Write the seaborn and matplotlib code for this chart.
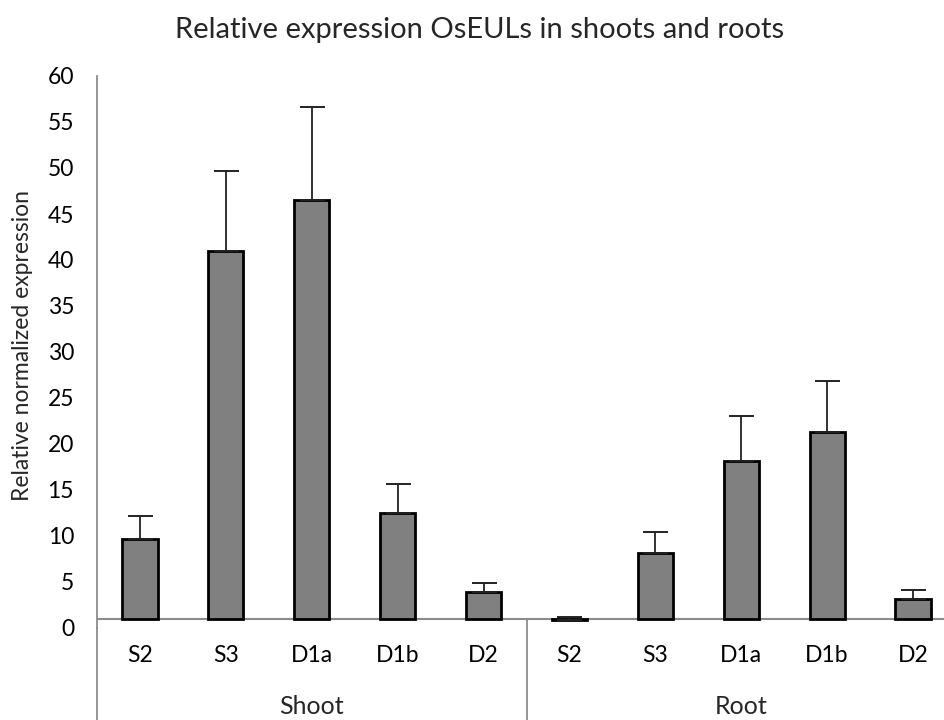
import matplotlib
matplotlib.use("Agg")
import matplotlib.pyplot as plt
import seaborn as sns
import pandas as pd
import numpy as np

# ---- data ----
tissues = ["Shoot", "Root"]
genes = ["S2", "S3", "D1a", "D1b", "D2"]
shoot_values = [9.7, 41.0, 46.5, 12.5, 3.9]
shoot_errors = [2.5, 8.7, 10.1, 3.1, 0.95]
root_values = [0.85, 8.15, 18.2, 21.3, 3.2]
root_errors = [0.35, 2.25, 4.8, 5.6, 0.9]
y_ticks = list(range(0, 61, 5))
axis_crossing = 1.0
title = "Relative expression OsEULs in shoots and roots"
y_label = "Relative normalized expression"

sns.set_style("white")
plt.rcParams["font.family"] = ["Lato", "DejaVu Sans"]

df = pd.DataFrame({
    "tissue": [t for t in tissues for _ in genes],
    "gene": genes * len(tissues),
    "value": shoot_values + root_values,
    "error": shoot_errors + root_errors,
})
df["key"] = df["tissue"] + " " + df["gene"]
order = list(df["key"])

W, H = 945, 720
fig = plt.figure(figsize=(W / 100, H / 100), dpi=100)
ax = fig.add_axes([97 / W, 92 / H, 859 / W, 552 / H])

sns.barplot(data=df, x="key", y="value", order=order, color="#808080",
            saturation=1, width=0.41, edgecolor="black", linewidth=2.0,
            errorbar=None, ax=ax, zorder=2)

# bars start at the category axis crossing value
for p in ax.patches:
    h = p.get_height()
    p.set_y(axis_crossing)
    p.set_height(h - axis_crossing)

x = np.arange(len(order))
ax.errorbar(x, df["value"], yerr=[np.zeros(len(order)), df["error"]],
            fmt="none", ecolor="#222222", elinewidth=1.3, capsize=9,
            capthick=1.4, zorder=3)

axis_col = "#8c8c8c"
ax.set_xlim(-0.5, len(order) - 0.5)
ax.set_ylim(0, 60)
for s in ["top", "right", "bottom"]:
    ax.spines[s].set_visible(False)
ax.spines["left"].set_color(axis_col)
ax.spines["left"].set_linewidth(1.3)
ax.axhline(axis_crossing, color=axis_col, lw=1.5, zorder=1)
# frame lines of the grouped category axis
ax.plot([-0.5, -0.5], [0, -12], color=axis_col, lw=1.3, clip_on=False)
ax.plot([4.5, 4.5], [axis_crossing, -12], color=axis_col, lw=1.3, clip_on=False)

ax.set_yticks(y_ticks)
ax.set_yticklabels([str(v) for v in y_ticks])
ax.tick_params(axis="y", direction="out", length=6.5, width=1.1,
               color=axis_col, pad=10, labelsize=16.5, labelcolor="black")
ax.set_xticks(x)
ax.set_xticklabels(genes * len(tissues))
ax.tick_params(axis="x", length=0, pad=12, labelsize=16.5, labelcolor="black")
ax.set_xlabel("")
ax.set_ylabel("")

for i, t in enumerate(tissues):
    ax.text(2 + 5 * i, -8.5, t, ha="center", va="center", fontsize=18)

fig.text(23 / W, 1 - 345 / H, y_label, rotation=90, ha="center",
         va="center", fontsize=16.5)
fig.text(480 / W, 1 - 30 / H, title, ha="center", va="center", fontsize=21)

fig.savefig("out.png", dpi=100)
